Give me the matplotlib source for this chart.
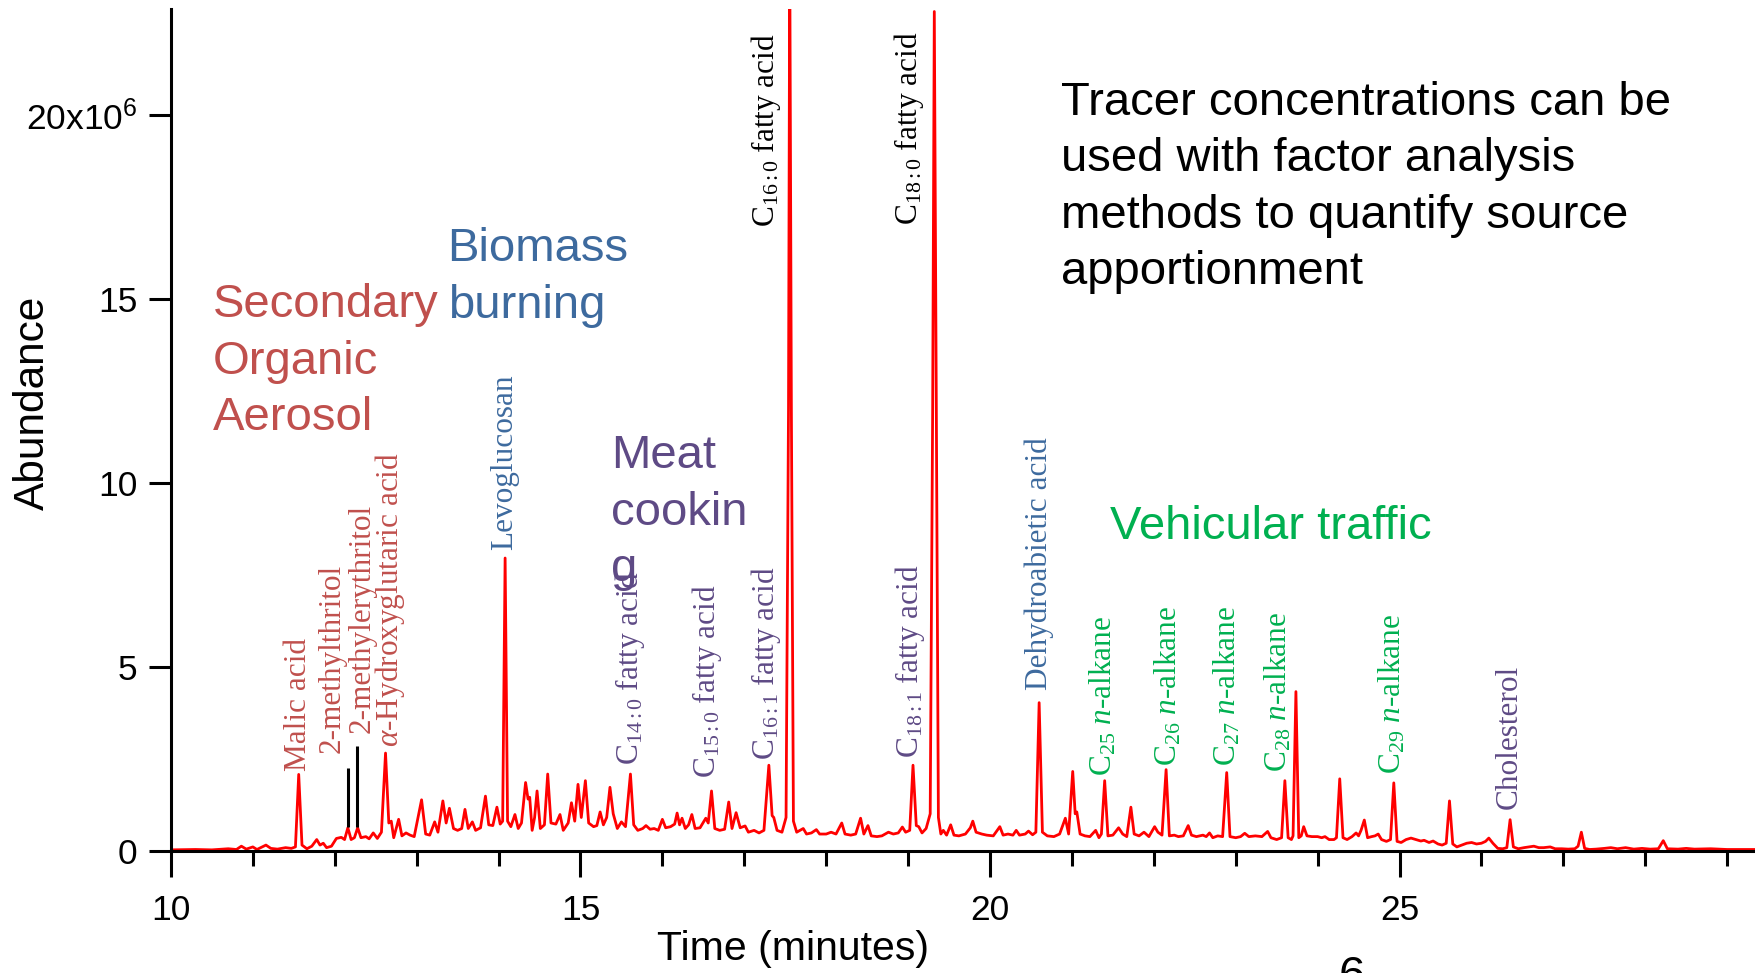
import matplotlib
matplotlib.use("Agg")
import matplotlib.pyplot as plt
from matplotlib.ticker import FixedLocator, FuncFormatter, MultipleLocator


# chromatogram trace: (minutes, abundance in 1e6)
trace_time = [
    10.00, 10.30, 10.50, 10.70, 10.80, 10.86, 10.92, 11.00, 11.05, 11.16, 11.22, 11.30, 11.40, 11.47, 11.52,
    11.56, 11.60, 11.66, 11.72, 11.78, 11.82, 11.86, 11.90, 11.96, 12.02, 12.08, 12.12, 12.16, 12.20, 12.24,
    12.28, 12.32, 12.38, 12.42, 12.47, 12.52, 12.57,
    12.62, 12.66, 12.69, 12.72, 12.78, 12.82, 12.87, 12.92, 12.97, 13.06, 13.11, 13.16, 13.22, 13.26, 13.32,
    13.36, 13.40, 13.45, 13.50, 13.55, 13.59, 13.63, 13.68, 13.72, 13.78, 13.84, 13.88, 13.93, 13.98, 14.02, 14.05,
    14.08, 14.11, 14.15, 14.20, 14.24, 14.28, 14.33, 14.36, 14.38, 14.41, 14.44, 14.47, 14.51, 14.56, 14.60,
    14.64, 14.70, 14.75, 14.79, 14.85, 14.89, 14.93, 14.97, 15.01, 15.06, 15.10, 15.16, 15.20, 15.24, 15.28,
    15.32, 15.36, 15.40, 15.45, 15.50, 15.55,
    15.61, 15.65, 15.70, 15.76, 15.80, 15.85, 15.90, 15.95, 16.00, 16.04, 16.10, 16.15, 16.18, 16.21, 16.24,
    16.28, 16.32, 16.36, 16.40, 16.46, 16.53, 16.56,
    16.60, 16.64, 16.70, 16.76, 16.81, 16.85, 16.90, 16.95, 17.01, 17.05, 17.12, 17.18, 17.24,
    17.30, 17.34, 17.36, 17.40, 17.46, 17.51,
    17.54, 17.555, 17.575, 17.60, 17.64,
    17.72, 17.76, 17.82, 17.88, 17.92, 18.00, 18.06, 18.12, 18.19, 18.23, 18.30, 18.36, 18.42, 18.46, 18.51,
    18.55, 18.62, 18.68, 18.76, 18.82, 18.88, 18.93, 18.97, 19.02,
    19.06, 19.10, 19.13, 19.17, 19.22,
    19.27, 19.30, 19.32, 19.345, 19.37, 19.40, 19.43, 19.47, 19.52, 19.56, 19.62, 19.70, 19.76, 19.79, 19.83,
    19.90, 19.96, 20.04, 20.12, 20.16, 20.22, 20.28, 20.32, 20.36, 20.43, 20.47, 20.52, 20.56,
    20.60, 20.64, 20.70, 20.78, 20.85, 20.92, 20.96, 21.01, 21.04, 21.06, 21.10, 21.16, 21.22, 21.29, 21.33, 21.36,
    21.40, 21.44, 21.50, 21.57, 21.62, 21.67, 21.72, 21.76, 21.82, 21.88, 21.94, 22.01, 22.05, 22.10,
    22.15, 22.19, 22.25, 22.30, 22.36, 22.42, 22.46, 22.52, 22.60, 22.64, 22.68, 22.72, 22.78, 22.84,
    22.89, 22.93, 23.00, 23.06, 23.11, 23.16, 23.24, 23.32, 23.39, 23.43, 23.50, 23.56,
    23.60, 23.64, 23.68, 23.70, 23.735, 23.77, 23.80, 23.83, 23.87, 23.93, 24.00, 24.05, 24.09, 24.14, 24.20, 24.23,
    24.27, 24.31, 24.36, 24.42, 24.47, 24.50, 24.53, 24.57, 24.61, 24.66, 24.70, 24.74, 24.78, 24.84, 24.89,
    24.93, 24.97, 25.02, 25.08, 25.14, 25.20, 25.26, 25.30, 25.36, 25.41, 25.47, 25.52, 25.57,
    25.61, 25.65, 25.70, 25.76, 25.82, 25.88, 25.94, 26.00, 26.05, 26.09, 26.14, 26.20, 26.26, 26.31,
    26.35, 26.39, 26.45, 26.52, 26.58, 26.64, 26.70, 26.76, 26.84, 26.90, 26.98, 27.06, 27.14, 27.18,
    27.22, 27.26, 27.32, 27.40, 27.50, 27.58, 27.66, 27.76, 27.86, 27.96, 28.06, 28.16,
    28.22, 28.27, 28.40, 28.50, 28.60, 28.80, 29.00, 29.20, 29.40,
]
trace_abund = [
    0.02, 0.03, 0.02, 0.05, 0.03, 0.12, 0.04, 0.10, 0.03, 0.15, 0.06, 0.04, 0.08, 0.06, 0.10,
    2.07, 0.15, 0.05, 0.12, 0.30, 0.15, 0.20, 0.08, 0.12, 0.33, 0.36, 0.30, 0.62, 0.30, 0.35,
    0.62, 0.35, 0.38, 0.32, 0.48, 0.33, 0.50,
    2.65, 0.75, 0.80, 0.35, 0.85, 0.40, 0.48, 0.42, 0.38, 1.38, 0.45, 0.42, 0.78, 0.50, 1.35,
    0.75, 1.15, 0.60, 0.55, 0.60, 1.12, 0.60, 0.78, 0.55, 0.62, 1.48, 0.70, 0.68, 1.18, 0.72, 0.80,
    7.95, 0.80, 0.65, 0.98, 0.60, 0.75, 1.85, 1.40, 1.45, 0.55, 0.90, 1.62, 0.60, 0.70, 2.08,
    0.75, 0.72, 0.98, 0.55, 0.75, 1.30, 0.80, 1.80, 0.90, 1.90, 0.75, 0.65, 0.68, 1.05, 0.70,
    0.90, 1.72, 1.00, 0.60, 0.78, 0.65,
    2.08, 0.70, 0.55, 0.60, 0.68, 0.58, 0.60, 0.55, 0.85, 0.62, 0.65, 0.72, 1.02, 0.70, 0.88,
    0.60, 0.70, 0.98, 0.60, 0.62, 0.88, 0.75,
    1.62, 0.60, 0.55, 0.58, 1.32, 0.60, 1.03, 0.62, 0.67, 0.50, 0.55, 0.48, 0.55,
    2.32, 0.95, 0.90, 0.55, 0.50, 0.90,
    12.0, 24.5, 12.0, 0.80, 0.50,
    0.60, 0.45, 0.48, 0.57, 0.45, 0.45, 0.50, 0.45, 0.75, 0.45, 0.42, 0.45, 0.88, 0.45, 0.68,
    0.40, 0.38, 0.40, 0.50, 0.45, 0.48, 0.64, 0.50, 0.55,
    2.32, 0.68, 0.65, 0.48, 0.60,
    1.00, 12.0, 22.8, 12.0, 0.90, 0.45, 0.55, 0.42, 0.70, 0.42, 0.40, 0.45, 0.62, 0.80, 0.50,
    0.45, 0.42, 0.40, 0.65, 0.42, 0.45, 0.42, 0.55, 0.42, 0.45, 0.53, 0.43, 0.50,
    4.02, 0.50, 0.40, 0.38, 0.45, 0.88, 0.45, 2.15, 1.00, 1.05, 0.45, 0.40, 0.38, 0.55, 0.35, 0.45,
    1.90, 0.40, 0.42, 0.62, 0.45, 0.38, 1.18, 0.45, 0.40, 0.50, 0.38, 0.65, 0.50, 0.42,
    2.20, 0.40, 0.42, 0.38, 0.40, 0.68, 0.42, 0.38, 0.42, 0.38, 0.48, 0.35, 0.40, 0.38,
    2.12, 0.38, 0.35, 0.38, 0.47, 0.38, 0.40, 0.38, 0.52, 0.35, 0.30, 0.35,
    1.90, 0.35, 0.30, 0.40, 4.32, 0.35, 0.40, 0.65, 0.40, 0.38, 0.38, 0.35, 0.38, 0.30, 0.30, 0.35,
    1.95, 0.35, 0.30, 0.38, 0.48, 0.40, 0.55, 0.83, 0.35, 0.38, 0.40, 0.45, 0.30, 0.25, 0.30,
    1.84, 0.25, 0.22, 0.30, 0.34, 0.30, 0.26, 0.28, 0.22, 0.26, 0.18, 0.15, 0.20,
    1.35, 0.18, 0.10, 0.15, 0.20, 0.22, 0.18, 0.20, 0.25, 0.34, 0.20, 0.06, 0.05, 0.08,
    0.84, 0.10, 0.05, 0.08, 0.10, 0.12, 0.08, 0.08, 0.10, 0.05, 0.05, 0.04, 0.05, 0.12,
    0.50, 0.06, 0.03, 0.04, 0.06, 0.08, 0.05, 0.08, 0.04, 0.06, 0.04, 0.05,
    0.27, 0.05, 0.04, 0.06, 0.04, 0.05, 0.03, 0.03, 0.03,
]

# black markers over the two methyltetrol peaks
marker_time = [12.16, 12.27]
marker_low = [0.65, 0.65]
marker_high = [2.25, 2.85]

# compound labels: text, peak time, where the label starts, source group
label_text = [
    "Malic acid",
    "2-methylthritol",
    "2-methylerythritol",
    r"$\mathit{\alpha}$-Hydroxyglutaric acid",
    "Levoglucosan",
    r"C$_{14:0}$ fatty acid",
    r"C$_{15:0}$ fatty acid",
    r"C$_{16:1}$ fatty acid",
    r"C$_{16:0}$ fatty acid",
    r"C$_{18:0}$ fatty acid",
    r"C$_{18:1}$ fatty acid",
    "Dehydroabietic acid",
    r"C$_{25}$ $\mathit{n}$-alkane",
    r"C$_{26}$ $\mathit{n}$-alkane",
    r"C$_{27}$ $\mathit{n}$-alkane",
    r"C$_{28}$ $\mathit{n}$-alkane",
    r"C$_{29}$ $\mathit{n}$-alkane",
    "Cholesterol",
]
label_time = [11.56, 11.97, 12.34, 12.67, 14.07, 15.61, 16.55, 17.27, 17.26, 19.01,
              19.02, 20.60, 21.38, 22.18, 22.90, 23.52, 24.91, 26.34]
label_base = [2.15, 2.64, 3.19, 2.82, 8.16, 2.33, 1.96, 2.46, 16.95, 17.0,
              2.51, 4.36, 2.04, 2.31, 2.31, 2.13, 2.08, 1.12]
label_group = ["soa", "soa", "soa", "soa", "bb", "meat", "meat", "meat", "major", "major",
               "meat", "bb", "veh", "veh", "veh", "veh", "veh", "meat"]

GROUP_COLORS = {
    "soa": "#c0504d",
    "bb": "#3d6a9e",
    "meat": "#5e4a85",
    "veh": "#00b050",
    "major": "black",
}

SANS = "Liberation Sans"
SERIF = "Liberation Serif"

plt.rcParams["mathtext.fontset"] = "custom"
plt.rcParams["mathtext.default"] = "regular"
plt.rcParams["mathtext.it"] = "Liberation Serif:italic"
plt.rcParams["mathtext.rm"] = "Liberation Serif"


def y_label(v, pos):
    if abs(v - 20) < 1e-9:
        return r"20x10$^{6}$"
    return f"{v:.0f}"


fig = plt.figure(figsize=(17.55, 9.73), dpi=100)
ax = fig.add_axes([0.0974, 0.1258, 0.9026, 0.865])

ax.plot(trace_time, trace_abund, color="#ff0000", lw=2.0, solid_joinstyle="round")
ax.vlines(marker_time, marker_low, marker_high, color="black", lw=2.2)

for txt, t, b, g in zip(label_text, label_time, label_base, label_group):
    ax.text(t, b, txt, rotation=90, ha="center", va="bottom",
            fontsize=22.5, family=SERIF, color=GROUP_COLORS[g])

ax.set_xlim(10, 29.34)
ax.set_ylim(0, 22.87)

for side in ["top", "right"]:
    ax.spines[side].set_visible(False)
for side in ["left", "bottom"]:
    ax.spines[side].set_linewidth(2.2)

ax.xaxis.set_major_locator(FixedLocator([10, 15, 20, 25]))
ax.xaxis.set_minor_locator(MultipleLocator(1))
ax.yaxis.set_major_locator(FixedLocator([0, 5, 10, 15, 20]))
ax.yaxis.set_major_formatter(FuncFormatter(y_label))

ax.tick_params(axis="x", which="major", length=19, width=2.2, pad=12, labelsize=25.5)
ax.tick_params(axis="x", which="minor", length=11, width=2.2)
ax.tick_params(axis="y", which="major", length=16, width=2.2, pad=8, labelsize=25.5)
for lab in ax.get_xticklabels() + ax.get_yticklabels():
    lab.set_family(SANS)

ax.set_xlabel("Time (minutes)", fontsize=29.5, family=SANS, va="top")
ax.xaxis.set_label_coords(0.3927, -0.0943)
ax.set_ylabel("Abundance", fontsize=30.5, family=SANS, ha="center", va="center")
ax.yaxis.set_label_coords(-0.0870, 0.532)

# source group headings
fig.text(0.1211, 0.709, "Secondary\nOrganic\nAerosol", fontsize=34, family=SANS,
         color=GROUP_COLORS["soa"], va="top", linespacing=1.37)
fig.text(0.2550, 0.7667, "Biomass\nburning", fontsize=34, family=SANS,
         color=GROUP_COLORS["bb"], va="top", linespacing=1.37)
fig.text(0.3480, 0.554, "Meat\ncookin\ng", fontsize=34, family=SANS,
         color=GROUP_COLORS["meat"], va="top", linespacing=1.37)
fig.text(0.6325, 0.481, "Vehicular traffic", fontsize=34, family=SANS,
         color=GROUP_COLORS["veh"], va="top")
fig.text(0.6046, 0.917,
         "Tracer concentrations can be\nused with factor analysis\n"
         "methods to quantify source\napportionment",
         fontsize=34, family=SANS, color="black", va="top", linespacing=1.37)

# slide number, cut by the bottom edge
fig.text(0.770, 0.0185, "6", fontsize=34, family=SANS, ha="center", va="top")

fig.savefig("out.png", dpi=100)
